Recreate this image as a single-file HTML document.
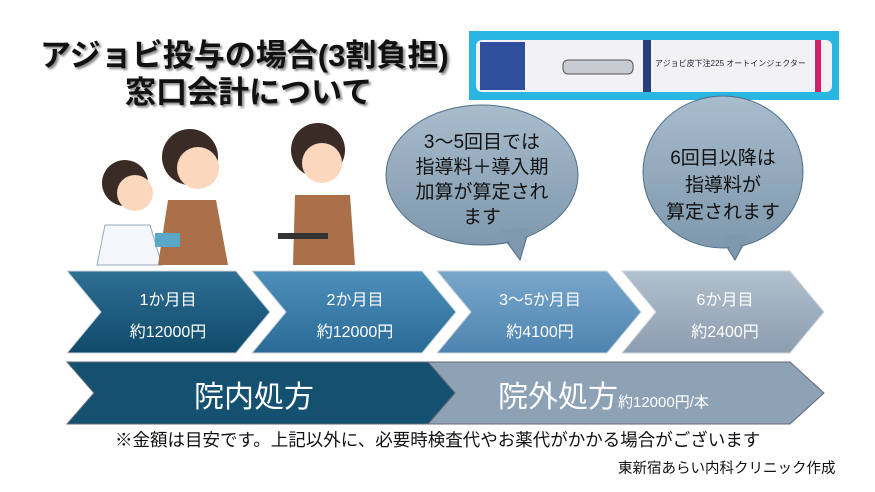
<!DOCTYPE html>
<html><head><meta charset="utf-8"><style>
body{margin:0;width:875px;height:492px;background:#fff;overflow:hidden;position:relative;font-family:"Liberation Sans","Noto Sans CJK JP",sans-serif}
.t{position:absolute;font-weight:bold;color:#111;text-shadow:2px 2px 2px #888;font-size:31px;white-space:nowrap}
.a{position:absolute;white-space:nowrap}
</style></head><body>
<div class="t" style="left:40px;top:30px">アジョビ投与の場合(3割負担)</div>
<div class="t" style="left:125px;top:67px">窓口会計について</div>
<svg width="875" height="492" style="position:absolute;left:0;top:0">
<defs>
<linearGradient id="g1" x1="0" y1="0" x2="0" y2="1"><stop offset="0" stop-color="#2f6f94"/><stop offset="1" stop-color="#0f4a6a"/></linearGradient>
<linearGradient id="g2" x1="0" y1="0" x2="0" y2="1"><stop offset="0" stop-color="#4d8fbb"/><stop offset="1" stop-color="#2a6a96"/></linearGradient>
<linearGradient id="g3" x1="0" y1="0" x2="0" y2="1"><stop offset="0" stop-color="#7aa7cb"/><stop offset="1" stop-color="#4d84b0"/></linearGradient>
<linearGradient id="g4" x1="0" y1="0" x2="0" y2="1"><stop offset="0" stop-color="#b2c0ce"/><stop offset="1" stop-color="#8c9db0"/></linearGradient>
<linearGradient id="gb" x1="0" y1="0" x2="0" y2="1"><stop offset="0" stop-color="#a8bccc"/><stop offset="1" stop-color="#7f98ad"/></linearGradient>
</defs>
<rect x="469" y="31" width="370" height="69" fill="#2ab6e3"/>
<rect x="476" y="40" width="356" height="52" rx="6" fill="#f2f2f4"/>
<rect x="480" y="42" width="45" height="48" fill="#2f4f9c"/>
<rect x="563" y="60" width="70" height="14" rx="5" fill="#c8ccd2" stroke="#555"/>
<rect x="643" y="40" width="8" height="52" fill="#2a3f7a"/>
<rect x="815" y="40" width="6" height="52" fill="#d0206a"/>
<text x="655" y="66" font-size="8" fill="#223">アジョビ皮下注225 オートインジェクター</text>
<g>
<circle cx="125" cy="183" r="23" fill="#3a2b26"/><circle cx="135" cy="193" r="18" fill="#fbd7bd"/>
<path d="M105 225 h45 l12 40 h-65z" fill="#f4f6fa" stroke="#9ab"/>
<circle cx="190" cy="157" r="28" fill="#3a2b26"/><circle cx="198" cy="168" r="21" fill="#fbd7bd"/>
<path d="M168 200 h48 l12 65 h-70z" fill="#a9704a"/>
<rect x="155" y="233" width="25" height="14" fill="#5aa7c9"/>
<circle cx="318" cy="150" r="27" fill="#3a2b26"/><circle cx="322" cy="163" r="20" fill="#fbd7bd"/>
<path d="M295 195 h55 l5 70 h-62z" fill="#a9704a"/>
<rect x="278" y="233" width="50" height="6" fill="#333"/>
</g>
<path d="M498 230 L520 260 L530 226 Z" fill="#7f98ad" stroke="#4e6f8a"/>
<ellipse cx="482" cy="175" rx="96" ry="70" fill="url(#gb)" stroke="#4e6f8a"/>
<path d="M500 230 L520 257 L528 228 Z" fill="#7f98ad"/>
<path d="M720 236 L735 260 L750 232 Z" fill="#7f98ad" stroke="#4e6f8a"/>
<ellipse cx="723" cy="172" rx="80" ry="76" fill="url(#gb)" stroke="#4e6f8a"/>
<path d="M722 236 L735 257 L748 233 Z" fill="#7f98ad"/>
<polygon points="67,271 236,271 270,312 236,353 67,353 101,312" fill="url(#g1)" stroke="#cfd6dc"/>
<polygon points="252,271 422,271 456,312 422,353 252,353 286,312" fill="url(#g2)" stroke="#cfd6dc"/>
<polygon points="437,271 607,271 641,312 607,353 437,353 471,312" fill="url(#g3)" stroke="#cfd6dc"/>
<polygon points="622,271 790,271 824,312 790,353 622,353 656,312" fill="url(#g4)" stroke="#cfd6dc"/>
<polygon points="428,362 790,362 824,393 790,424 428,424 455,393" fill="#8ea2b6" stroke="#667"/>
<polygon points="67,362 428,362 455,393 428,424 67,424 94,393" fill="#14506f" stroke="#667"/>
</svg>
<div class="a" style="left:386px;top:130px;width:192px;text-align:center;font-size:19px;line-height:25px;color:#111">3～5回目では<br>指導料＋導入期<br>加算が算定され<br>ます</div>
<div class="a" style="left:643px;top:145px;width:160px;text-align:center;font-size:19px;line-height:27px;color:#111">6回目以降は<br>指導料が<br>算定されます</div>
<div class="a" style="left:103px;top:285px;width:130px;text-align:center;color:#fff;font-size:16px;line-height:32px">1か月目<br>約12000円</div>
<div class="a" style="left:290px;top:285px;width:130px;text-align:center;color:#fff;font-size:16px;line-height:32px">2か月目<br>約12000円</div>
<div class="a" style="left:475px;top:285px;width:130px;text-align:center;color:#fff;font-size:16px;line-height:32px">3～5か月目<br>約4100円</div>
<div class="a" style="left:660px;top:285px;width:130px;text-align:center;color:#fff;font-size:16px;line-height:32px">6か月目<br>約2400円</div>
<div class="a" style="left:194px;top:372px;color:#fff;font-size:30px">院内処方</div>
<div class="a" style="left:498px;top:372px;color:#fff;font-size:30px">院外処方<span style="font-size:15px">約12000円/本</span></div>
<div class="a" style="left:115px;top:427px;font-size:17.5px;color:#111">※金額は目安です。上記以外に、必要時検査代やお薬代がかかる場合がございます</div>
<div class="a" style="left:618px;top:457px;font-size:14.5px;color:#111">東新宿あらい内科クリニック作成</div>
</body></html>
